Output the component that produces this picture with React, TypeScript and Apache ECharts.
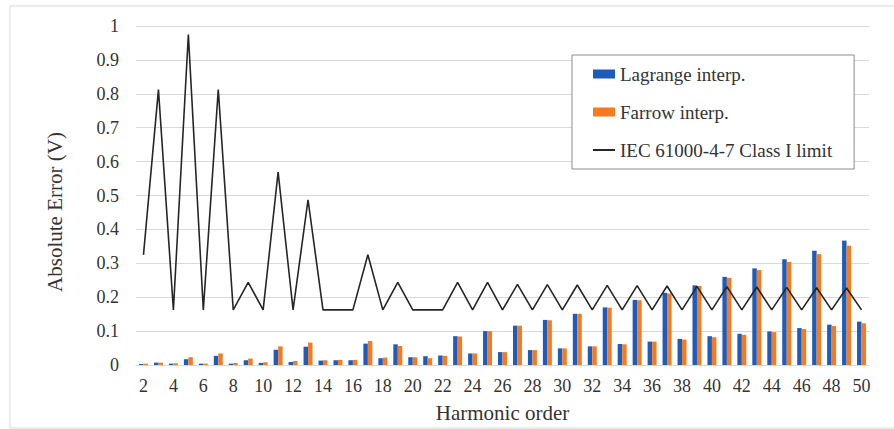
import React, { useEffect, useRef } from "react";
import * as echarts from "echarts";

// Harmonic orders 2..50
const harmonics: string[] = [
  "2", "3", "4", "5", "6", "7", "8", "9", "10", "11", "12", "13", "14", "15", "16", "17",
  "18", "19", "20", "21", "22", "23", "24", "25", "26", "27", "28", "29", "30", "31", "32", "33",
  "34", "35", "36", "37", "38", "39", "40", "41", "42", "43", "44", "45", "46", "47", "48", "49", "50",
];

// Absolute error of the Lagrange interpolation (V)
const lagrange: number[] = [
  0.003, 0.007, 0.004, 0.017, 0.004, 0.027, 0.004, 0.014, 0.006, 0.045, 0.009, 0.054, 0.013, 0.014, 0.014, 0.063,
  0.020, 0.061, 0.023, 0.026, 0.028, 0.085, 0.034, 0.100, 0.038, 0.116, 0.044, 0.133, 0.049, 0.151, 0.055, 0.170,
  0.062, 0.192, 0.069, 0.213, 0.077, 0.235, 0.085, 0.260, 0.092, 0.285, 0.099, 0.312, 0.109, 0.337, 0.119, 0.367, 0.128,
];

// Absolute error of the Farrow interpolation (V)
const farrow: number[] = [
  0.004, 0.007, 0.005, 0.023, 0.004, 0.034, 0.006, 0.019, 0.008, 0.055, 0.012, 0.066, 0.014, 0.015, 0.015, 0.071,
  0.022, 0.056, 0.023, 0.020, 0.027, 0.084, 0.034, 0.100, 0.038, 0.116, 0.044, 0.132, 0.049, 0.151, 0.055, 0.169,
  0.061, 0.191, 0.069, 0.211, 0.075, 0.233, 0.082, 0.257, 0.089, 0.280, 0.097, 0.304, 0.106, 0.327, 0.115, 0.352, 0.123,
];

// IEC 61000-4-7 Class I accuracy limit (V)
const iecLimit: number[] = [
  0.325, 0.8125, 0.1625, 0.975, 0.1625, 0.8125, 0.1625, 0.244, 0.1625, 0.569, 0.1625, 0.4875, 0.1625, 0.1625, 0.1625, 0.325,
  0.1625, 0.244, 0.1625, 0.1625, 0.1625, 0.244, 0.1625, 0.244, 0.1625, 0.238, 0.1625, 0.237, 0.1625, 0.236, 0.1625, 0.235,
  0.1625, 0.234, 0.1625, 0.233, 0.1625, 0.232, 0.1625, 0.231, 0.1625, 0.230, 0.1625, 0.229, 0.1625, 0.228, 0.1625, 0.227, 0.1625,
];

const FONT = "Liberation Serif";
const TEXT = "#333333";

export default function App() {
  const ref = useRef<HTMLDivElement>(null);

  useEffect(() => {
    if (!ref.current) return;
    const chart = echarts.init(ref.current, undefined, { renderer: "svg" });
    chart.setOption({
      animation: false,
      backgroundColor: "#ffffff",
      textStyle: { fontFamily: FONT, color: TEXT },
      grid: { left: 136, right: 25, top: 26, bottom: 64, containLabel: false },
      legend: {
        orient: "vertical",
        left: 572,
        top: 55,
        padding: [9, 22, 9, 20],
        itemGap: 18,
        itemWidth: 22,
        itemHeight: 9,
        borderColor: "#8c8c8c",
        borderWidth: 1,
        backgroundColor: "#ffffff",
        textStyle: { fontFamily: FONT, fontSize: 19, color: TEXT, lineHeight: 20 },
        data: [
          { name: "Lagrange interp.", icon: "rect" },
          { name: "Farrow interp.", icon: "rect" },
          { name: "IEC 61000-4-7 Class I limit", itemStyle: { opacity: 0 } },
        ],
      },
      xAxis: {
        type: "category",
        data: harmonics,
        name: "Harmonic order",
        nameLocation: "middle",
        nameGap: 37,
        nameTextStyle: { fontFamily: FONT, fontSize: 21, color: TEXT },
        axisLine: { show: true, lineStyle: { color: "#d9d9d9", width: 1 } },
        axisTick: { show: false },
        axisLabel: { interval: 1, margin: 12, fontFamily: FONT, fontSize: 18, color: TEXT },
      },
      yAxis: {
        type: "value",
        min: 0,
        max: 1,
        interval: 0.1,
        axisLine: { show: false },
        axisTick: { show: false },
        axisLabel: {
          margin: 17,
          fontFamily: FONT,
          fontSize: 18,
          color: TEXT,
          formatter: (v: number) => String(Math.round(v * 10) / 10),
        },
        splitLine: { lineStyle: { color: "#d9d9d9", width: 1 } },
      },
      graphic: [
        {
          type: "rect",
          shape: { x: 10, y: 6, width: 900, height: 422 },
          style: { fill: "none", stroke: "#d9d9d9", lineWidth: 1 },
          silent: true,
          z: -1,
        },
        {
          type: "text",
          x: 55,
          y: 212,
          rotation: Math.PI / 2,
          style: {
            text: "Absolute Error (V)",
            font: `21px ${FONT}`,
            fill: TEXT,
            align: "center",
            verticalAlign: "middle",
          },
        },
      ],
      series: [
        {
          name: "Lagrange interp.",
          type: "bar",
          data: lagrange,
          barGap: "0%",
          barCategoryGap: "40%",
          itemStyle: { color: "#1d5cbd" },
        },
        {
          name: "Farrow interp.",
          type: "bar",
          data: farrow,
          itemStyle: { color: "#f47b20" },
        },
        {
          name: "IEC 61000-4-7 Class I limit",
          type: "line",
          data: iecLimit,
          symbol: "none",
          lineStyle: { color: "#262626", width: 1.6 },
          itemStyle: { color: "#262626" },
          z: 5,
        },
      ],
    });
    return () => chart.dispose();
  }, []);

  return (
    <div
      ref={ref}
      style={{ position: "fixed", left: 0, top: 0, width: 894, height: 429 }}
    />
  );
}
